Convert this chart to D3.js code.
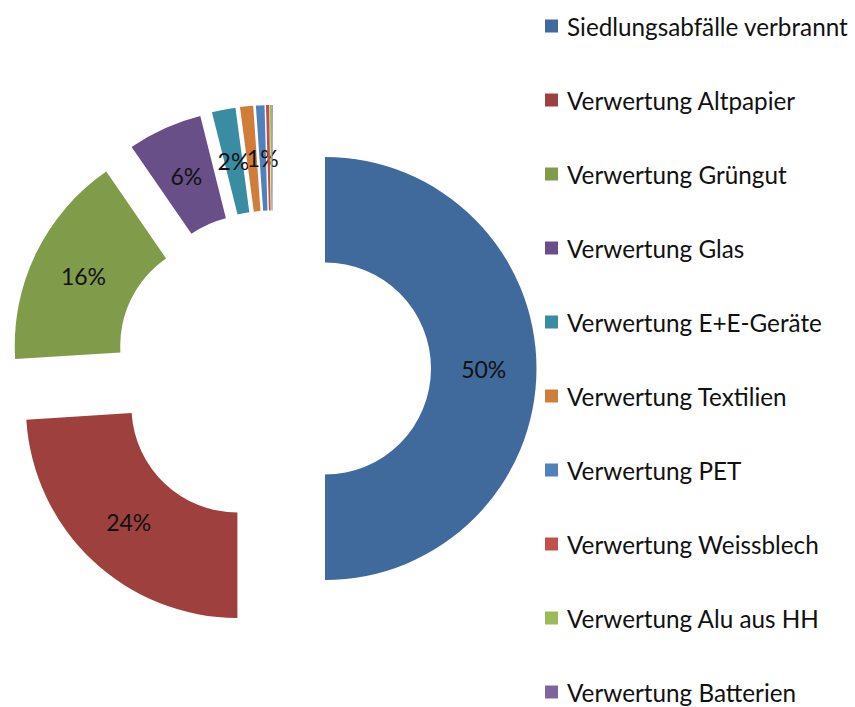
<!DOCTYPE html>
<html>
<head>
<meta charset="utf-8">
<script src="https://cdn.jsdelivr.net/npm/d3@7"></script>
<style>
  html, body { margin: 0; padding: 0; background: #fff; }
  svg { display: block; }
  text { font-family: Lato, "Open Sans", sans-serif; }
</style>
</head>
<body>
<svg id="chart" width="855" height="707"></svg>
<script>
// ---- data ----
const categories = [
  "Siedlungsabfälle verbrannt",
  "Verwertung Altpapier",
  "Verwertung Grüngut",
  "Verwertung Glas",
  "Verwertung E+E-Geräte",
  "Verwertung Textilien",
  "Verwertung PET",
  "Verwertung Weissblech",
  "Verwertung Alu aus HH",
  "Verwertung Batterien"
];
const values = [50, 24, 16.4, 5.7, 1.8, 1.0, 0.65, 0.25, 0.15, 0.05];
const labels = ["50%", "24%", "16%", "6%", "2%", "", "1%", "", "", ""];
const colors = ["#416A9C", "#9E413E", "#809C4A", "#694F88", "#3A8CA3",
                "#D07D39", "#4F81BD", "#C0504D", "#9BBB59", "#8064A2"];

// ---- layout ----
const svg = d3.select("#chart");
const cx = 273, cy = 368.5;
const outerR = 211.5, innerR = 106;
const explode = 52;

const data = categories.map((c, i) => ({ name: c, value: values[i], label: labels[i], color: colors[i] }));

const pie = d3.pie().sort(null).value(d => d.value).startAngle(0).endAngle(2 * Math.PI);
const arc = d3.arc().innerRadius(innerR).outerRadius(outerR);
const arcs = pie(data);

const g = svg.append("g").attr("transform", `translate(${cx},${cy})`);

const slice = g.selectAll("g.slice").data(arcs).enter().append("g")
  .attr("class", "slice")
  .attr("transform", d => {
    const a = (d.startAngle + d.endAngle) / 2;
    return `translate(${explode * Math.sin(a)},${-explode * Math.cos(a)})`;
  });

slice.append("path")
  .attr("d", arc)
  .attr("fill", d => d.data.color);

slice.filter(d => d.data.label).append("text")
  .attr("transform", d => `translate(${arc.centroid(d)})`)
  .attr("text-anchor", "middle")
  .attr("dominant-baseline", "central")
  .attr("font-size", 23)
  .attr("fill", "#111")
  .text(d => d.data.label);

// ---- legend ----
const legX = 545, legY0 = 26, legStep = 74, sq = 13;
const leg = svg.append("g");
const items = leg.selectAll("g").data(data).enter().append("g")
  .attr("transform", (d, i) => `translate(${legX},${legY0 + i * legStep})`);
items.append("rect")
  .attr("x", 0).attr("y", -sq / 2).attr("width", sq).attr("height", sq)
  .attr("fill", d => d.color);
const legText = items.append("text")
  .attr("x", 22).attr("y", 0)
  .attr("dominant-baseline", "central")
  .attr("font-size", 22)
  .attr("fill", "#111")
  .text(d => d.name);

// fit font so the longest entry spans like the reference
const w0 = legText.nodes()[0].getComputedTextLength();
const fs = 22 * 281 / w0;
legText.attr("font-size", fs);
</script>
</body>
</html>
